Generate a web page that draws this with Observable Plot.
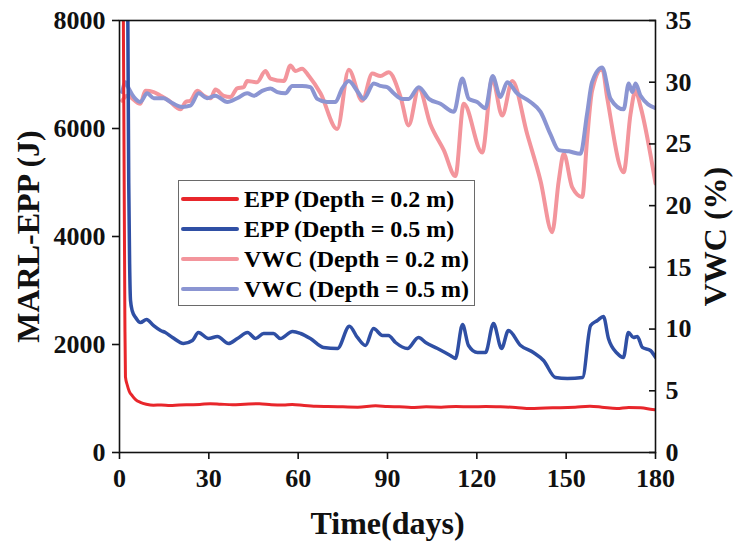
<!DOCTYPE html>
<html>
<head>
<meta charset="utf-8">
<script src="https://cdn.jsdelivr.net/npm/d3@7"></script>
<script src="https://cdn.jsdelivr.net/npm/@observablehq/plot@0.6"></script>
<style>
  html, body { margin: 0; padding: 0; background: #fff; }
  #wrap { position: relative; width: 733px; height: 547px; }
  #legend {
    position: absolute; left: 178px; top: 180px; width: 297px; height: 126px;
    border: 1px solid #6a6a6a; background: #fff; box-sizing: border-box;
    font-family: "Liberation Serif", "Times New Roman", serif; font-weight: bold; font-size: 24px;
    padding-top: 3px; white-space: nowrap;
  }
  .row { display: flex; align-items: center; height: 30px; }
  .sw { width: 58px; height: 4px; margin-left: 2px; margin-right: 5px; border-radius: 2px; }
</style>
</head>
<body>
<div id="wrap"></div>
<script>
// ---- Data ----
const EPP_MAX = 8000;
const VWC_MAX = 35;
const xTicks = [0, 30, 60, 90, 120, 150, 180];
const yTicks = [0, 2000, 4000, 6000, 8000];
const vwcTicks = [0, 5, 10, 15, 20, 25, 30, 35];
const seriesNames = ["EPP (Depth = 0.2 m)", "EPP (Depth = 0.5 m)", "VWC (Depth = 0.2 m)", "VWC (Depth = 0.5 m)"];
const seriesColors = ["#e8262b", "#2f4fa4", "#f3959c", "#8b95d2"];
const xLabel = "Time(days)";
const yLabel = "MARL-EPP (J)";
const y2Label = "VWC (%)";

const eppDays02 = [1.3, 1.8, 2.0, 2.6, 3.3, 4.3, 5.5, 7, 9, 11.4, 14, 17, 20, 24, 27, 30.5, 34, 38, 42, 47, 51, 55, 58, 62, 66, 70, 75, 80, 86, 90, 94, 98, 103, 108, 113, 118, 123, 128, 133, 138, 143, 148, 153, 158, 162, 167, 171, 175, 179, 180];
const epp02 = [8000, 2500, 1400, 1250, 1130, 1050, 975, 930, 895, 875, 880, 870, 880, 885, 890, 905, 895, 885, 895, 905, 885, 880, 890, 870, 855, 850, 845, 840, 865, 850, 845, 835, 845, 840, 850, 845, 850, 845, 835, 815, 825, 830, 840, 855, 840, 815, 835, 830, 796, 790];

const eppDays05 = [2.8, 3.1, 3.4, 3.7, 4.3, 5.4, 7.05, 9.07, 11.4, 13.8, 15.4, 17.8, 21.5, 24.5, 26.5, 29.9, 32.9, 36.6, 39.6, 43, 45.7, 48.4, 51.7, 54, 58.1, 60.8, 64.1, 68.5, 73.2, 77.2, 79.9, 82.6, 85.3, 88.3, 90.3, 92.7, 96.7, 100.4, 102.8, 106.8, 111.1, 112.8, 115.2, 117.2, 120.2, 122.9, 125.6, 128.3, 130.6, 134.7, 139, 142.4, 146.4, 150.4, 155.5, 158.2, 160.5, 162.5, 164.2, 167.2, 169.2, 170.9, 172.6, 173.9, 175.6, 178.3, 180];
const epp05 = [8000, 5000, 3500, 2815, 2620, 2500, 2407, 2463, 2352, 2259, 2222, 2130, 2019, 2074, 2222, 2111, 2148, 2019, 2111, 2222, 2111, 2204, 2204, 2111, 2241, 2204, 2111, 1945, 1926, 2340, 2130, 1982, 2296, 2167, 2167, 2037, 1926, 2130, 2037, 1926, 1796, 1741, 2370, 1982, 1852, 1852, 2389, 1926, 2259, 1982, 1852, 1704, 1389, 1370, 1389, 2352, 2444, 2519, 2111, 1833, 1759, 2222, 2130, 2148, 1945, 1889, 1760];

const vwcDays02 = [0.9, 2.6, 7, 8.7, 11.5, 13.8, 16.6, 20.5, 22.2, 23.8, 26.1, 28.3, 30.6, 32.2, 35, 37.3, 39.5, 41.7, 42.9, 46.2, 49, 50.7, 55.2, 57.4, 59.1, 61.3, 63.6, 67.5, 73.1, 77, 81.5, 84.9, 87.6, 90.4, 94.4, 97.1, 100.5, 104.4, 108.9, 112.8, 115.6, 121.8, 125.2, 128.5, 131.9, 136.9, 141.4, 145.3, 147.5, 149.2, 152, 155.4, 157, 158.7, 162.1, 163.8, 169.3, 171.6, 173.3, 175, 180];
const vwc02 = [28.5, 28.9, 28.25, 29.3, 29.2, 28.9, 28.5, 27.8, 28.4, 28.5, 29.3, 28.9, 28.7, 29.4, 28.9, 28.8, 29.5, 29.6, 30.1, 30.0, 30.9, 30.3, 30.1, 31.35, 30.9, 31.1, 30.5, 29.1, 26.2, 31.0, 28.5, 30.7, 30.5, 30.8, 28.8, 26.5, 29.5, 26.6, 24.5, 22.4, 28.25, 24.3, 30.3, 27.3, 30.1, 25.8, 22.0, 17.85, 22.0, 24.2, 21.5, 20.7, 25.3, 29.3, 31.1, 28.7, 22.7, 27.4, 29.3, 28.0, 21.8];

const vwcDays05 = [0.9, 2, 3.1, 4.8, 7, 9.3, 11.5, 14.9, 17.1, 21.1, 23.8, 26.6, 29.4, 32.2, 36.2, 39.5, 42.9, 45.1, 47.9, 50.7, 53, 55.7, 58, 61.3, 64.1, 66.4, 69.7, 72.5, 74.8, 77, 79.8, 82, 85.4, 87.6, 89.9, 92.1, 94.9, 97.1, 100.5, 103.9, 107.8, 112.3, 115.1, 117.3, 120.1, 122.9, 125.3, 127.9, 130.2, 133.5, 138, 141.4, 144.7, 147.5, 150.9, 154.8, 157, 158.7, 162.1, 164.9, 169.3, 171, 172.2, 173.3, 175, 180];
const vwc05 = [29.2, 30.0, 29.5, 28.8, 28.4, 29.1, 28.7, 28.7, 28.4, 28.0, 28.1, 29.1, 28.7, 28.9, 28.4, 28.7, 29.1, 28.9, 29.3, 29.5, 29.2, 29.1, 29.7, 29.7, 29.6, 28.65, 28.4, 28.4, 29.5, 30.1, 29.3, 28.65, 29.9, 29.7, 29.6, 29.1, 28.65, 28.65, 29.6, 28.65, 28.25, 27.6, 30.3, 28.65, 28.4, 27.9, 30.5, 28.8, 30.0, 29.1, 28.4, 27.6, 25.8, 24.5, 24.4, 24.2, 27.4, 30.0, 31.2, 28.65, 27.8, 29.9, 29.2, 29.9, 28.9, 27.9];

// ---- Build tables ----
const toRows = (days, vals) => days.map((d, i) => ({day: d, v: vals[i]}));
const rEpp02 = toRows(eppDays02, epp02);
const rEpp05 = toRows(eppDays05, epp05);
const rVwc02 = toRows(vwcDays02, vwc02);
const rVwc05 = toRows(vwcDays05, vwc05);
const vwcToY = v => v * EPP_MAX / VWC_MAX;

const FONT = "'Liberation Serif', 'Times New Roman', serif";

const chart = Plot.plot({
  width: 733,
  height: 547,
  marginLeft: 119,
  marginRight: 78,
  marginTop: 20,
  marginBottom: 95,
  style: {fontFamily: FONT, fontWeight: "bold", fontSize: "26px", color: "#111", background: "#fff", overflow: "visible"},
  x: {domain: [0, 180]},
  y: {domain: [0, EPP_MAX]},
  marks: [
    Plot.line(rVwc02, {x: "day", y: d => vwcToY(d.v), stroke: seriesColors[2], strokeWidth: 4, curve: "monotone-x", clip: true}),
    Plot.line(rVwc05, {x: "day", y: d => vwcToY(d.v), stroke: seriesColors[3], strokeWidth: 4, curve: "monotone-x", clip: true}),
    Plot.line(rEpp05, {x: "day", y: "v", stroke: seriesColors[1], strokeWidth: 3.5, curve: "monotone-x", clip: true}),
    Plot.line(rEpp02, {x: "day", y: "v", stroke: seriesColors[0], strokeWidth: 3, curve: "monotone-x", clip: true}),
    Plot.frame({stroke: "#111", strokeWidth: 1.6}),
    Plot.axisX(xTicks, {anchor: "bottom", tickSize: 7, tickPadding: 9, strokeWidth: 1.6, label: null, tickFormat: d => String(d)}),
    Plot.axisY(yTicks, {anchor: "left", tickSize: 7, tickPadding: 7, strokeWidth: 1.6, label: null, tickFormat: d => String(d)}),
    Plot.axisY(vwcTicks.map(vwcToY), {anchor: "right", tickSize: -7, tickPadding: 17, strokeWidth: 1.6, label: null, tickFormat: d => String(Math.round(d * VWC_MAX / EPP_MAX))}),
    Plot.text([xLabel], {text: d => d, frameAnchor: "bottom", textAnchor: "middle", dy: 81, fontSize: 32, fontWeight: "bold"}),
    Plot.text([yLabel], {text: d => d, frameAnchor: "left", textAnchor: "middle", dx: -91, rotate: -90, fontSize: 32, fontWeight: "bold"}),
    Plot.text([y2Label], {text: d => d, frameAnchor: "right", textAnchor: "middle", dx: 60, rotate: -90, fontSize: 32, fontWeight: "bold"})
  ]
});

const wrap = document.getElementById("wrap");
wrap.appendChild(chart);

const legend = document.createElement("div");
legend.id = "legend";
seriesNames.forEach((name, i) => {
  const row = document.createElement("div");
  row.className = "row";
  const sw = document.createElement("div");
  sw.className = "sw";
  sw.style.background = seriesColors[i];
  const tx = document.createElement("span");
  tx.textContent = name;
  row.appendChild(sw);
  row.appendChild(tx);
  legend.appendChild(row);
});
wrap.appendChild(legend);
</script>
</body>
</html>
